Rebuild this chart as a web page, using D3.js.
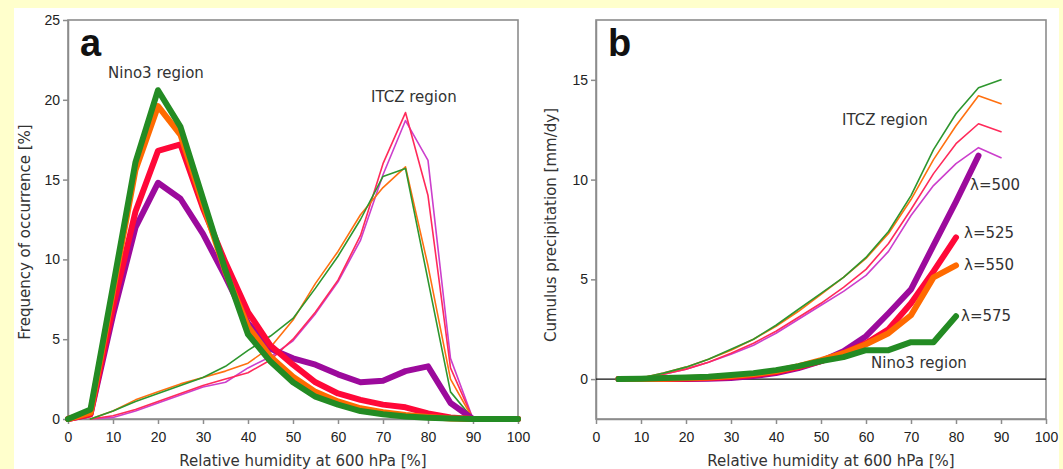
<!DOCTYPE html>
<meta charset="utf-8">
<style>
    body { margin: 0; background: #ffffcc; }
    svg { display: block; font-family: "DejaVu Sans", sans-serif; }
    .axis path, .axis line { stroke: #8c8c8c; stroke-width: 1.5; }
    .axis text { font-size: 14px; fill: #222; }
    .note { font-size: 15px; fill: #333; }
    .title { font-size: 15px; fill: #333; }
    .big { font-size: 38px; font-weight: bold; fill: #111; font-family: "Liberation Sans", Arial, sans-serif; }
</style>
<script src="https://cdn.jsdelivr.net/npm/d3@7"></script>
<body>
<svg></svg>
</body>
<script>

    // panel a: frequency of occurrence [%] vs relative humidity
    var rhA = [0, 5, 10, 15, 20, 25, 30, 35, 40, 45, 50, 55, 60, 65, 70, 75, 80, 85, 90, 95, 100];
    var ninoGreenA  = [0, 0.6, 8.3, 16.1, 20.6, 18.3, 13.8, 9.3, 5.3, 3.6, 2.3, 1.4, 0.9, 0.5, 0.3, 0.15, 0.08, 0.03, 0, 0, 0];
    var ninoOrangeA = [0, 0.4, 8.0, 15.6, 19.6, 17.8, 13.5, 9.2, 5.8, 3.9, 2.65, 1.7, 1.1, 0.67, 0.42, 0.25, 0.12, 0.03, 0, 0, 0];
    var ninoRedA    = [0, 0.3, 7.0, 13.0, 16.8, 17.2, 13.2, 9.8, 6.7, 4.6, 3.4, 2.3, 1.6, 1.2, 0.9, 0.73, 0.35, 0.1, 0, 0, 0];
    var ninoPurpleA = [0, 0.3, 6.5, 12.0, 14.8, 13.8, 11.6, 8.9, 6.0, 4.4, 3.8, 3.4, 2.8, 2.3, 2.4, 3.0, 3.3, 1.0, 0, 0, 0];

    var rhItczA = [5, 10, 15, 20, 25, 30, 35, 40, 45, 50, 55, 60, 65, 70, 75, 80, 85, 90];
    var itczGreenA  = [0, 0.5, 1.1, 1.6, 2.1, 2.6, 3.3, 4.3, 5.2, 6.3, 8.2, 10.2, 12.5, 15.2, 15.7, 8.7, 1.7, 0];
    var itczOrangeA = [0, 0.5, 1.2, 1.7, 2.2, 2.6, 3.0, 3.5, 4.5, 6.2, 8.5, 10.5, 12.8, 14.5, 15.8, 9.6, 2.5, 0];
    var itczRedA    = [0, 0.2, 0.6, 1.1, 1.6, 2.1, 2.5, 2.9, 3.7, 5.0, 6.7, 8.7, 11.5, 16.0, 19.2, 14.0, 3.2, 0];
    var itczPurpleA = [0, 0.1, 0.5, 1.0, 1.5, 2.0, 2.3, 3.2, 3.9, 4.9, 6.6, 8.6, 11.2, 15.3, 18.7, 16.2, 3.8, 0];

    // panel b: cumulus precipitation [mm/dy]
    var rhItczB = [5, 10, 15, 20, 25, 30, 35, 40, 45, 50, 55, 60, 65, 70, 75, 80, 85, 90];
    var itczGreenB  = [0, 0.05, 0.3, 0.6, 1.0, 1.5, 2.0, 2.7, 3.5, 4.3, 5.1, 6.1, 7.4, 9.2, 11.5, 13.3, 14.6, 15.0];
    var itczOrangeB = [0, 0.05, 0.3, 0.6, 1.0, 1.45, 2.0, 2.65, 3.4, 4.25, 5.1, 6.05, 7.3, 9.0, 11.0, 12.7, 14.2, 13.8];
    var itczRedB    = [0, 0.05, 0.25, 0.5, 0.85, 1.3, 1.8, 2.4, 3.1, 3.8, 4.6, 5.5, 6.8, 8.5, 10.3, 11.8, 12.8, 12.4];
    var itczPurpleB = [0, 0.05, 0.25, 0.5, 0.85, 1.25, 1.7, 2.3, 3.0, 3.7, 4.4, 5.2, 6.4, 8.2, 9.7, 10.8, 11.6, 11.1];

    var rhNinoB = [5, 10, 15, 20, 25, 30, 35, 40, 45, 50, 55, 60, 65, 70, 75, 80, 85];
    var ninoPurpleB = [0, 0, 0, 0, 0.02, 0.05, 0.15, 0.3, 0.55, 0.9, 1.4, 2.15, 3.3, 4.5, 6.7, 8.9, 11.2];
    var ninoRedB    = [0, 0, 0, 0.02, 0.05, 0.1, 0.2, 0.35, 0.6, 0.9, 1.3, 1.8, 2.5, 3.8, 5.4, 7.1];
    var ninoOrangeB = [0, 0, 0.02, 0.05, 0.08, 0.15, 0.25, 0.4, 0.65, 0.95, 1.3, 1.75, 2.3, 3.2, 5.1, 5.7];
    var ninoGreenB  = [0, 0.02, 0.05, 0.08, 0.12, 0.2, 0.3, 0.45, 0.65, 0.9, 1.1, 1.45, 1.45, 1.85, 1.85, 3.15];

    var xTicks = [0, 10, 20, 30, 40, 50, 60, 70, 80, 90, 100];
    var yTicksA = [0, 5, 10, 15, 20, 25];
    var yTicksB = [0, 5, 10, 15];
    var lambdas = ["λ=500", "λ=525", "λ=550", "λ=575"];

    var col = {
        green: "#238b23", orange: "#ff6a00", red: "#ff0838", purple: "#9c0a9c",
        greenT: "#2e962e", orangeT: "#ff7010", redT: "#ff2a5a", purpleT: "#cc3fcc"
    };

    var svg = d3.select("svg").attr("width", 1063).attr("height", 469);
    svg.append("rect").attr("width", 1063).attr("height", 469).attr("fill", "#ffffcc");
    svg.append("rect").attr("x", 14).attr("y", 8).attr("width", 1045).attr("height", 461).attr("fill", "#fff");

    function panel(opt) {
        var x = d3.scaleLinear().domain([0, 100]).range([opt.left, opt.left + 450]);
        var y = d3.scaleLinear().domain(opt.ydom).range([419, 20]);
        var g = svg.append("g");

        g.append("g").attr("class", "axis")
            .attr("transform", "translate(0,419)")
            .call(d3.axisBottom(x).tickValues(xTicks).tickSize(5).tickSizeOuter(0).tickPadding(8));
        g.append("g").attr("class", "axis")
            .attr("transform", "translate(" + opt.left + ",0)")
            .call(d3.axisLeft(y).tickValues(opt.yticks).tickSize(5).tickSizeOuter(0).tickPadding(3));
        g.append("rect")
            .attr("x", x(0)).attr("y", 20).attr("width", 450).attr("height", 399)
            .attr("fill", "none").attr("stroke", "#8c8c8c").attr("stroke-width", 1.6);

        if (opt.zeroLine) {
            g.append("line").attr("x1", x(0)).attr("x2", x(100)).attr("y1", y(0)).attr("y2", y(0))
                .attr("stroke", "#111").attr("stroke-width", 1.2);
        }

        var line = d3.line().x(function (d) { return x(d[0]); }).y(function (d) { return y(d[1]); });
        opt.series.forEach(function (s) {
            g.append("path")
                .attr("d", line(d3.zip(s.xs, s.ys)))
                .attr("fill", "none")
                .attr("stroke", s.c)
                .attr("stroke-width", s.w)
                .attr("stroke-linejoin", "round")
                .attr("stroke-linecap", "round");
        });

        g.append("text").attr("class", "title")
            .attr("text-anchor", "middle")
            .attr("x", opt.left + 235).attr("y", 466)
            .text("Relative humidity at 600 hPa [%]");
        g.append("text").attr("class", "title")
            .attr("text-anchor", "middle")
            .attr("transform", "translate(" + opt.ytx + "," + opt.yty + ") rotate(-90)")
            .attr("dy", "0.35em")
            .text(opt.ytitle);
        g.append("text").attr("class", "big").attr("x", opt.left + 12).attr("y", 56).text(opt.tag);
        opt.notes.forEach(function (n) {
            g.append("text").attr("class", "note").attr("x", n[0]).attr("y", n[1]).attr("dy", "0.35em").text(n[2]);
        });
        return g;
    }

    panel({
        left: 68, ydom: [0, 25], yticks: yTicksA, tag: "a",
        ytitle: "Frequency of occurrence [%]", ytx: 25, yty: 232,
        series: [
            { xs: rhItczA, ys: itczPurpleA, c: col.purpleT, w: 1.6 },
            { xs: rhItczA, ys: itczRedA, c: col.redT, w: 1.6 },
            { xs: rhItczA, ys: itczOrangeA, c: col.orangeT, w: 1.6 },
            { xs: rhItczA, ys: itczGreenA, c: col.greenT, w: 1.6 },
            { xs: rhA, ys: ninoPurpleA, c: col.purple, w: 6 },
            { xs: rhA, ys: ninoRedA, c: col.red, w: 6 },
            { xs: rhA, ys: ninoOrangeA, c: col.orange, w: 6 },
            { xs: rhA, ys: ninoGreenA, c: col.green, w: 6 }
        ],
        notes: [[108, 73, "Nino3 region"], [371, 97, "ITCZ region"]]
    });

    panel({
        left: 596, ydom: [-2, 18], yticks: yTicksB, tag: "b", zeroLine: true,
        ytitle: "Cumulus precipitation [mm/dy]", ytx: 551, yty: 225,
        series: [
            { xs: rhItczB, ys: itczPurpleB, c: col.purpleT, w: 1.6 },
            { xs: rhItczB, ys: itczRedB, c: col.redT, w: 1.6 },
            { xs: rhItczB, ys: itczOrangeB, c: col.orangeT, w: 1.6 },
            { xs: rhItczB, ys: itczGreenB, c: col.greenT, w: 1.6 },
            { xs: rhNinoB, ys: ninoPurpleB, c: col.purple, w: 6 },
            { xs: rhNinoB.slice(0, ninoRedB.length), ys: ninoRedB, c: col.red, w: 6 },
            { xs: rhNinoB.slice(0, ninoOrangeB.length), ys: ninoOrangeB, c: col.orange, w: 6 },
            { xs: rhNinoB.slice(0, ninoGreenB.length), ys: ninoGreenB, c: col.green, w: 6 }
        ],
        notes: [[842, 120, "ITCZ region"], [970, 185, lambdas[0]], [964, 233, lambdas[1]],
                [964, 265, lambdas[2]], [961, 316, lambdas[3]], [871, 363, "Nino3 region"]]
    });

</script>
</html>
